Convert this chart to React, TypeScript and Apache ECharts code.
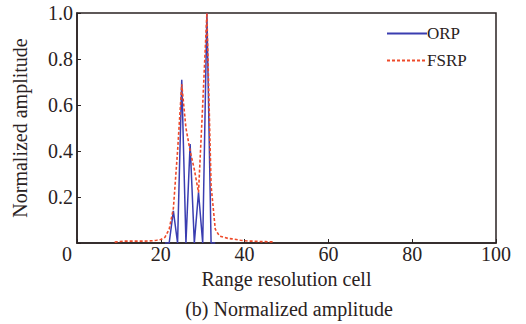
import React, { useEffect, useRef } from "react";
import * as echarts from "echarts";

const orpCells = [21, 22, 23, 24, 25, 26, 27, 28, 29, 30, 31, 32, 33];
const orpValues = [0, 0, 0.14, 0, 0.71, 0, 0.43, 0, 0.22, 0, 1.0, 0, 0];

const fsrpCells = [
  9, 10, 11, 12, 13, 14, 15, 16, 17, 18, 19, 20, 21, 22, 23, 24, 25, 26, 27, 28,
  29, 30, 31, 32, 33, 34, 35, 36, 37, 38, 39, 40, 41, 42, 43, 44, 45, 46, 47,
];
const fsrpValues = [
  0.004, 0.006, 0.008, 0.008, 0.008, 0.008, 0.008, 0.008, 0.009, 0.01, 0.012,
  0.015, 0.025, 0.06, 0.15, 0.4, 0.69, 0.5, 0.4, 0.32, 0.22, 0.6, 1.0, 0.25,
  0.06, 0.03, 0.025, 0.02, 0.018, 0.015, 0.012, 0.01, 0.008, 0.008, 0.007,
  0.006, 0.006, 0.005, 0.005,
];

const xTicks = [0, 20, 40, 60, 80, 100];
const yTicks = [0, 0.2, 0.4, 0.6, 0.8, 1.0];

const FONT = "'Liberation Serif', 'Times New Roman', serif";
const INK = "#2a2222";

export default function App() {
  const ref = useRef<HTMLDivElement>(null);
  useEffect(() => {
    if (!ref.current) return;
    const chart = echarts.init(ref.current, undefined, { renderer: "svg" });
    chart.setOption({
      animation: false,
      backgroundColor: "#ffffff",
      textStyle: { fontFamily: FONT, color: INK },
      title: {
        text: "(b) Normalized amplitude",
        left: 284,
        top: 294,
        textAlign: "center",
        textStyle: { fontFamily: FONT, fontSize: 20, fontWeight: "normal", color: INK },
      },
      legend: {
        orient: "vertical",
        left: 381,
        top: 20,
        itemWidth: 40,
        itemHeight: 14,
        itemGap: 10,
        itemStyle: { opacity: 0 },
        textStyle: { fontFamily: FONT, fontSize: 17, color: INK, padding: [0, 0, 0, -5] },
        data: ["ORP", "FSRP"],
      },
      grid: {
        left: 77,
        right: 30,
        top: 13,
        bottom: 81,
        show: true,
        borderColor: INK,
        borderWidth: 1.5,
      },
      xAxis: {
        type: "value",
        min: xTicks[0],
        max: xTicks[xTicks.length - 1],
        interval: 20,
        name: "Range resolution cell",
        nameLocation: "middle",
        nameGap: 26,
        nameTextStyle: { fontFamily: FONT, fontSize: 20, color: INK },
        axisLine: { show: true, lineStyle: { color: INK, width: 1.5 } },
        axisTick: { show: true, inside: true, length: 4, lineStyle: { color: INK } },
        splitLine: { show: false },
        axisLabel: {
          fontFamily: FONT,
          fontSize: 20,
          color: INK,
          margin: 1,
          formatter: (v: number) => (v === 0 ? "{z|0}" : String(v)),
          rich: { z: { fontFamily: FONT, fontSize: 20, color: INK, padding: [0, 20, 0, 0] } },
        },
      },
      yAxis: {
        type: "value",
        min: yTicks[0],
        max: yTicks[yTicks.length - 1],
        interval: 0.2,
        name: "Normalized amplitude",
        nameLocation: "middle",
        nameGap: 47,
        nameTextStyle: { fontFamily: FONT, fontSize: 20, color: INK },
        axisLine: { show: true, lineStyle: { color: INK, width: 1.5 } },
        axisTick: { show: true, inside: true, length: 4, lineStyle: { color: INK } },
        splitLine: { show: false },
        axisLabel: {
          fontFamily: FONT,
          fontSize: 20,
          color: INK,
          margin: 4,
          formatter: (v: number) => (v === 0 ? "" : v.toFixed(1)),
        },
      },
      series: [
        {
          name: "ORP",
          type: "line",
          data: orpCells.map((c, i) => [c, orpValues[i]]),
          symbol: "none",
          lineStyle: { color: "#3a3db0", width: 1.5 },
          itemStyle: { color: "#3a3db0" },
          z: 2,
        },
        {
          name: "FSRP",
          type: "line",
          data: fsrpCells.map((c, i) => [c, fsrpValues[i]]),
          symbol: "none",
          lineStyle: { color: "#ee4a2a", width: 1.6, type: [3, 2] },
          itemStyle: { color: "#ee4a2a" },
          z: 3,
        },
      ],
    });
    return () => chart.dispose();
  }, []);
  return <div ref={ref} style={{ width: 526, height: 324, position: "absolute", left: 0, top: 0 }} />;
}
